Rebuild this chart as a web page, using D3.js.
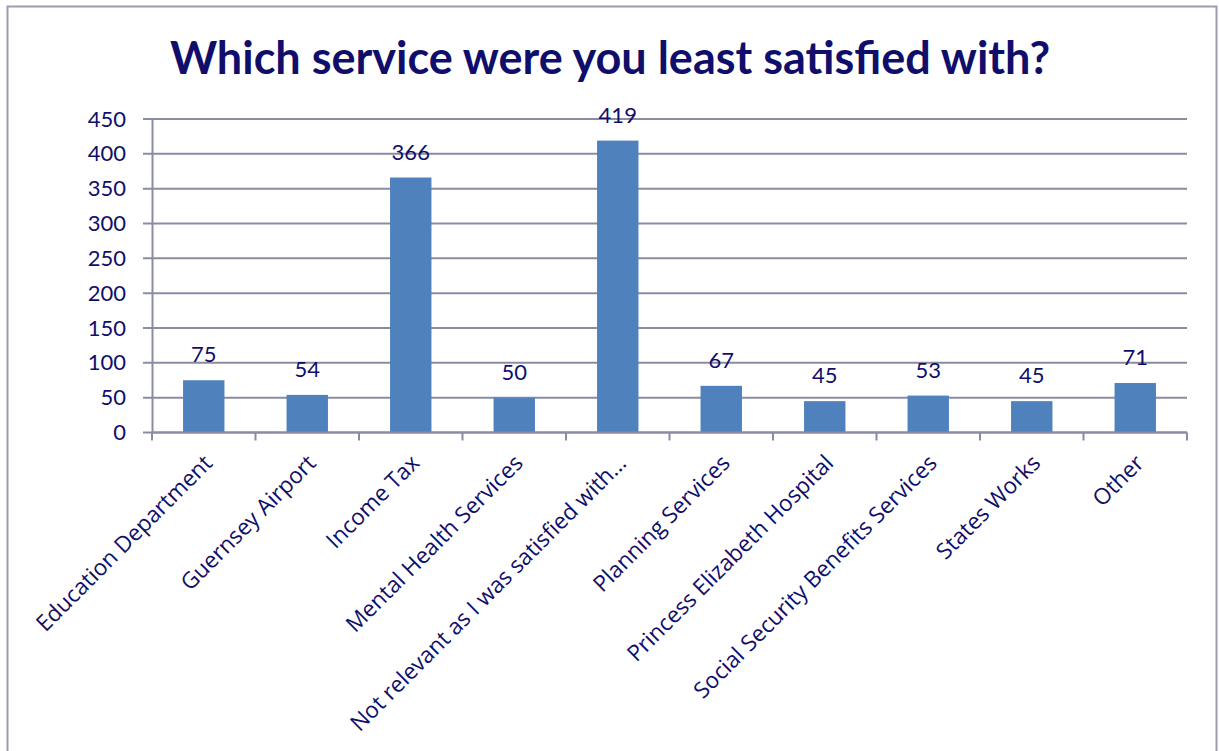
<!DOCTYPE html>
<html>
<head>
<meta charset="utf-8">
<script src="https://cdn.jsdelivr.net/npm/d3@7"></script>
<style>
  body { margin: 0; background: #fff; }
  svg { display: block; font-family: Lato, "Open Sans", sans-serif; }
</style>
</head>
<body>
<div id="chart"></div>
<script>
const categories = [
  "Education Department",
  "Guernsey Airport",
  "Income Tax",
  "Mental Health Services",
  "Not relevant as I was satisfied with…",
  "Planning Services",
  "Princess Elizabeth Hospital",
  "Social Security Benefits Services",
  "States Works",
  "Other"
];
const counts = [75, 54, 366, 50, 419, 67, 45, 53, 45, 71];
const yTicks = [0, 50, 100, 150, 200, 250, 300, 350, 400, 450];
const title = "Which service were you least satisfied with?";

const w = 1219;
const h = 751;
const textColor = "#0f0f6b";
const gridColor = "#8a8ca2";
const barColor = "#4f81bd";

const plotLeft = 152, plotRight = 1187, plotTop = 119, plotBottom = 432.5;

const svg = d3.select("#chart")
  .append("svg")
  .attr("width", w)
  .attr("height", h);

// outer frame
svg.append("rect")
  .attr("x", 7.5)
  .attr("y", 6.5)
  .attr("width", 1209)
  .attr("height", 760)
  .attr("fill", "none")
  .attr("stroke", "#9a9cb0")
  .attr("stroke-width", 2);

svg.append("text")
  .attr("x", 610)
  .attr("y", 74)
  .attr("text-anchor", "middle")
  .attr("font-size", 45)
  .attr("font-weight", "bold")
  .attr("fill", textColor)
  .text(title);

const x = d3.scaleBand().domain(categories).range([plotLeft, plotRight]).paddingInner(0.6).paddingOuter(0.3);
const y = d3.scaleLinear().domain([0, 450]).range([plotBottom, plotTop]);

// gridlines
svg.append("g")
  .selectAll("line")
  .data(yTicks)
  .join("line")
  .attr("x1", plotLeft - 9)
  .attr("x2", plotRight)
  .attr("y1", d => y(d))
  .attr("y2", d => y(d))
  .attr("stroke", gridColor)
  .attr("stroke-width", 2);

// y axis
const yAxis = svg.append("g")
  .attr("transform", `translate(${plotLeft},0)`)
  .call(d3.axisLeft(y).tickValues(yTicks).tickSize(0).tickPadding(26));
yAxis.select(".domain").attr("stroke", gridColor).attr("stroke-width", 2);
yAxis.selectAll("text")
  .attr("font-size", 22)
  .attr("font-family", "Lato, sans-serif")
  .attr("fill", textColor);

// bars
svg.append("g")
  .selectAll("rect")
  .data(categories)
  .join("rect")
  .attr("x", d => x(d))
  .attr("y", (d, i) => y(counts[i]))
  .attr("width", x.bandwidth())
  .attr("height", (d, i) => y(0) - y(counts[i]))
  .attr("fill", barColor);

// value labels
svg.append("g")
  .selectAll("text")
  .data(categories)
  .join("text")
  .attr("x", d => x(d) + x.bandwidth() / 2)
  .attr("y", (d, i) => y(counts[i]) - 18)
  .attr("text-anchor", "middle")
  .attr("font-size", 22)
  .attr("fill", textColor)
  .text((d, i) => counts[i]);

// x axis line + boundary ticks
const step = (plotRight - plotLeft) / categories.length;
svg.append("line")
  .attr("x1", plotLeft).attr("x2", plotRight)
  .attr("y1", plotBottom).attr("y2", plotBottom)
  .attr("stroke", gridColor).attr("stroke-width", 2);
svg.append("g")
  .selectAll("line")
  .data(d3.range(categories.length + 1))
  .join("line")
  .attr("x1", i => plotLeft + i * step)
  .attr("x2", i => plotLeft + i * step)
  .attr("y1", plotBottom)
  .attr("y2", plotBottom + 8)
  .attr("stroke", gridColor)
  .attr("stroke-width", 2);

// category labels
svg.append("g")
  .selectAll("text")
  .data(categories)
  .join("text")
  .attr("transform", d => `translate(${x(d) + x.bandwidth() / 2 + 10},${plotBottom + 32}) rotate(-45)`)
  .attr("text-anchor", "end")
  .attr("font-family", "'Open Sans', sans-serif")
  .attr("font-size", 22.5)
  .attr("fill", textColor)
  .text(d => d);
</script>
</body>
</html>
